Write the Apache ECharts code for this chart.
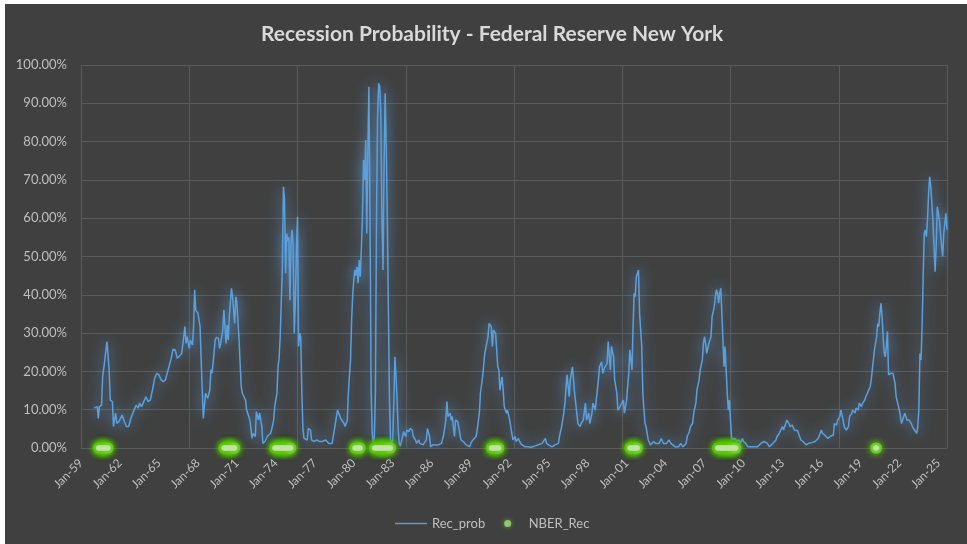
<!DOCTYPE html>
<html>
<head>
<meta charset="utf-8">
<script src="https://cdn.jsdelivr.net/npm/echarts@6/dist/echarts.min.js"></script>
<style>
  html, body { margin: 0; padding: 0; background: #ffffff; }
  #chart { position: absolute; left: 5px; top: 4px; width: 962px; height: 540px; }
</style>
</head>
<body>
<div id="chart"></div>
<script>
// ---- Data ----
const startYear = 1959;          // first category: Jan-59
const monthCount = 801;          // Jan-59 .. Sep-25
const monthNames = ['Jan','Feb','Mar','Apr','May','Jun','Jul','Aug','Sep','Oct','Nov','Dec'];

// Rec_prob: [month index since Jan-59, probability in %]
const recProb = [
[12,10.4],[15,10.8],[16,7.7],[17,10.8],[19,11.2],[20,18.6],[22,23.0],[24,27.8],[26,20.4],[27,12.5],[29,12.1],[30,5.6],[32,9.1],[33,6.4],[35,6.9],[36,6.4],[38,8.6],[40,6.9],[42,5.6],[44,5.6],[46,7.7],[49,9.9],[51,11.2],[53,10.4],[54,11.7],[56,10.8],[58,12.1],[60,13.4],[62,12.1],[64,12.5],[66,15.1],[68,18.2],[70,19.5],[72,19.1],[74,17.8],[76,17.3],[78,17.8],[80,19.9],[83,23.0],[85,25.8],[87,25.6],[89,23.4],[90,23.8],[93,24.7],[94,26.9],[96,31.7],[97,27.3],[98,29.1],[100,26.0],[101,28.2],[103,26.9],[104,31.7],[105,41.3],[106,36.0],[108,35.2],[110,31.7],[111,23.0],[113,7.7],
[115,14.3],[117,13.0],[119,15.1],[120,20.4],[121,19.5],[122,22.1],[124,28.2],[125,28.9],[127,28.6],[128,26.0],[129,27.3],[131,30.8],[132,36.0],[134,27.3],[135,32.1],[136,28.2],[137,34.3],[139,41.7],[140,39.5],[142,32.5],[143,39.5],[144,37.8],[146,28.2],[148,16.0],[149,14.3],[150,14.7],[152,12.5],[153,9.9],[155,8.2],[156,7.3],[158,2.5],[159,3.8],[161,3.0],[162,9.5],[164,7.3],[165,9.1],[167,5.6],[168,1.2],[170,1.7],[172,3.0],[173,2.5],[175,3.8],[176,4.7],[178,7.3],[179,10.8],[181,14.3],[182,21.2],
[183,23.4],[184,29.0],[185,38.0],[186,47.0],[187,68.2],[188,65.0],[189,45.6],[190,56.0],[191,54.0],[192,55.0],[193,38.6],[194,53.4],[195,57.0],[196,52.6],[197,30.0],[198,37.8],[199,51.7],[200,60.4],[201,26.5],[202,30.0],[203,29.0],[204,14.3],[205,5.0],[206,2.5],
[207,2.1],[209,2.1],[210,5.1],[212,4.7],[213,2.1],[215,1.7],[216,1.2],[218,2.1],[220,1.7],[221,2.1],[223,1.7],[226,2.1],[229,1.2],[232,1.2],[233,3.0],[235,6.4],[237,9.9],[238,9.1],[240,7.7],[241,7.3],[243,6.4],[244,5.6],[246,7.3],
[247,14.3],[248,19.0],[249,23.0],[250,33.4],[251,40.0],[252,43.9],[253,46.5],[254,45.0],[255,47.3],[256,43.0],[257,49.1],[258,44.7],[259,52.0],[260,60.4],[261,75.2],[262,70.0],[263,80.4],[264,56.0],[265,78.0],[266,94.3],[267,60.4],[268,15.0],[269,4.0],[270,1.5],[271,3.0],[272,15.0],[273,60.0],[274,86.5],[275,95.2],[276,94.3],[277,86.5],[278,60.0],[279,46.5],[280,75.0],[281,92.6],[282,77.8],[283,60.0],[284,35.0],[285,12.0],[286,2.0],[287,1.2],[288,2.1],[289,12.5],[290,23.8],[291,18.6],[292,12.5],[293,4.7],[294,1.2],
[295,0.5],[297,3.0],[298,4.3],[300,3.0],[301,4.7],[303,4.3],[304,5.1],[306,4.7],[307,3.0],[309,2.1],[310,1.2],[312,2.1],[313,1.2],[316,0.8],[317,0.3],[319,2.1],[320,5.1],[322,3.0],[323,0.3],[325,0.8],[326,0.3],[330,0.8],[333,1.2],[335,3.4],[337,7.3],[338,12.1],[339,8.2],[341,9.1],[342,7.3],[343,8.2],[345,3.0],[346,7.3],[348,6.9],[349,6.4],[351,2.1],[353,1.7],[354,1.2],[356,0.8],[357,1.2],[359,0.3],[360,1.2],[362,2.1],[363,1.7],[365,3.0],[366,4.7],[368,9.1],[369,14.3],[371,18.6],[373,24.7],[374,25.2],[376,29.1],[377,32.5],[379,31.7],[380,26.5],[381,30.8],[383,29.9],[384,25.6],[385,21.2],[386,20.4],[387,15.1],[389,18.6],[390,15.1],[391,10.8],[393,9.1],[394,9.9],
[396,7.3],[398,3.8],[399,2.1],[401,3.0],[402,1.7],[404,2.5],[406,1.2],[407,0.8],[410,0.3],[413,0.3],[416,0.2],[419,0.5],[422,0.8],[426,1.2],[427,1.7],[429,2.5],[430,1.2],[432,0.8],[435,0.3],[438,0.8],[441,1.2],[442,3.0],[444,5.6],[446,9.1],[447,11.7],[449,19.1],[451,13.4],[452,17.8],[454,21.2],[456,14.3],[458,9.1],[459,6.4],[461,5.6],[462,6.4],[464,7.3],[466,11.7],[467,7.3],[469,9.1],[470,6.4],[472,9.1],[473,11.7],[475,9.9],[476,12.5],[478,17.8],[479,21.2],[481,22.5],[482,19.5],[484,21.2],[486,22.1],[487,27.8],[489,20.4],[490,26.5],[492,23.8],[493,17.8],[495,14.3],[496,9.9],[498,10.8],[499,10.8],[501,12.5],[502,9.1],[504,12.5],[506,19.5],[507,25.6],[509,20.4],[510,31.7],[511,40.4],[512,39.5],[513,44.7],[515,46.5],[516,35.2],[518,26.5],[519,14.3],[521,6.4],[522,5.6],[524,2.1],[526,0.8],[527,0.3],
[529,1.7],[531,1.2],[532,0.8],[534,1.2],[536,2.5],[538,1.2],[539,0.8],[541,1.2],[543,2.1],[545,1.2],[546,0.8],[549,0.3],[552,0.3],[554,1.2],[556,0.3],[557,0.3],[559,1.2],[560,3.0],[562,4.3],[563,5.6],[565,6.4],[566,9.1],[568,11.7],[569,15.1],[571,17.8],[572,20.4],[574,23.0],[575,27.3],[576,29.1],[577,27.3],[578,24.7],[579,24.7],[580,27.3],[582,29.1],[583,34.3],[585,36.9],[586,39.5],[587,41.3],[588,40.4],[589,37.8],[590,40.4],[591,41.7],[592,35.2],[593,28.2],[594,21.2],[595,26.5],[596,20.4],[597,14.3],[598,9.9],[599,12.5],[600,7.3],[601,3.0],[602,2.1],[604,2.5],[605,3.0],[606,1.7],[608,2.1],[609,1.2],[611,2.5],[612,1.7],[614,1.2],[616,0.3],[619,0.3],[622,0.3],[625,0.3],[628,1.2],[631,1.7],[632,2.1],[634,1.2],[636,0.3],[637,0.8],[639,1.2],[640,1.7],[642,2.1],[643,3.0],[645,3.8],[646,4.3],[648,5.6],[649,4.7],[651,6.4],[652,7.3],[654,6.4],[655,5.6],[657,6.0],[659,4.7],[660,4.7],[662,4.5],
[665,2.1],[667,1.7],[668,1.2],[670,0.8],[672,1.2],[673,1.0],[675,1.4],[676,1.2],[678,1.7],[679,2.1],[681,2.5],[682,3.0],[684,4.7],[685,3.8],[687,3.4],[688,3.0],[690,2.5],[692,3.0],[693,3.4],[695,3.4],[696,6.4],[698,6.0],[699,7.3],[701,8.2],[702,9.9],[704,7.3],[705,5.6],[707,4.7],[709,5.6],[710,8.2],[712,9.1],[713,9.9],[715,9.1],[716,10.4],[718,9.9],[719,11.7],[721,10.8],[722,11.7],[724,12.5],[725,13.4],[727,14.7],[728,14.3],[729,16.0],[730,17.8],[732,23.0],[733,25.6],[734,27.3],[735,29.1],[736,32.5],[737,31.7],[738,35.2],[739,37.8],[740,34.3],[741,29.1],[742,24.7],[743,23.8],[744,26.5],[745,30.4],[746,19.1],[748,19.5],[750,19.5],[752,16.9],[753,13.4],[756,9.9],[758,6.4],[759,6.0],[761,9.1],[763,7.3],[765,7.3],[767,6.4],[768,5.6],[770,4.7],[772,3.8],[773,5.6],[774,10.0],[775,24.7],[776,23.0],[777,31.7],[778,44.7],[779,56.0],[780,56.9],[781,55.2],[782,59.5],[783,66.5],[784,70.8],[785,68.2],[786,63.9],[787,59.5],[788,52.6],[789,46.0],[790,52.6],[791,63.0],[792,61.3],[793,59.5],[794,56.0],[795,52.6],[796,50.0],[797,56.0],[798,56.5],[799,61.3],[800,57.0]
];

// NBER_Rec: recession months (month index since Jan-59), plotted at 0
const nberRecMonths = [
16,17,18,19,20,21,22,23,24,25,
132,133,134,135,136,137,138,139,140,141,142,
179,180,181,182,183,184,185,186,187,188,189,190,191,192,193,194,
253,254,255,256,257,258,
271,272,273,274,275,276,277,278,279,280,281,282,283,284,285,286,
379,380,381,382,383,384,385,386,
507,508,509,510,511,512,513,514,
588,589,590,591,592,593,594,595,596,597,598,599,600,601,602,603,604,605,
734,735
];

// ---- Categories (monthly) ----
const categories = [];
for (let i = 0; i < monthCount; i++) {
  const y = startYear + Math.floor(i / 12);
  categories.push(monthNames[i % 12] + '-' + String(y % 100).padStart(2, '0'));
}

const FONT = 'Lato';
const TXT = '#bfbfbf';
const GRID = '#5a5a5a';
const nberPoints = nberRecMonths.map(function (m) { return [m, 0]; });

const chart = echarts.init(document.getElementById('chart'), null, { renderer: 'canvas' });
chart.setOption({
  backgroundColor: '#404040',
  animation: false,
  title: {
    text: 'Recession Probability - Federal Reserve New York',
    left: 251,
    top: 15,
    textStyle: { color: '#d9d9d9', fontSize: 21, fontWeight: 'bold', fontFamily: FONT }
  },
  grid: { left: 76, right: 20, top: 61, bottom: 96, containLabel: false },
  legend: {
    left: 385,
    top: 508,
    itemWidth: 32,
    itemHeight: 7,
    itemGap: 19,
    textStyle: { color: TXT, fontSize: 13, fontFamily: FONT },
    data: [
      { name: 'Rec_prob', icon: 'path://M0,0 L32,0 L32,1.5 L0,1.5 Z', itemStyle: { color: '#5b9bd5' } },
      { name: 'NBER_Rec', icon: 'circle', itemStyle: { color: '#a9d18e', shadowBlur: 4, shadowColor: '#5fd000' } }
    ]
  },
  xAxis: {
    type: 'category',
    data: categories,
    boundaryGap: false,
    axisLine: { show: true, lineStyle: { color: GRID } },
    axisTick: { show: false },
    axisLabel: {
      interval: 35,
      rotate: 45,
      margin: 13,
      color: TXT,
      fontSize: 12,
      fontFamily: FONT
    },
    splitLine: {
      show: true,
      interval: function (index) { return index % 100 === 0; },
      lineStyle: { color: GRID, width: 1 }
    }
  },
  yAxis: {
    type: 'value',
    min: 0,
    max: 100,
    interval: 10,
    axisLine: { show: false },
    axisTick: { show: false },
    axisLabel: {
      margin: 14,
      color: TXT,
      fontSize: 13,
      fontFamily: FONT,
      formatter: function (v) { return v.toFixed(2) + '%'; }
    },
    splitLine: { show: true, lineStyle: { color: GRID, width: 1 } }
  },
  series: [
    {
      name: 'Rec_prob',
      type: 'line',
      data: recProb.map(function (p) { return [p[0], p[1]]; }),
      symbol: 'none',
      showSymbol: false,
      lineStyle: {
        color: '#5ba0dc',
        width: 1.5,
        shadowBlur: 14,
        shadowColor: 'rgba(95,160,225,1)'
      },
      itemStyle: { color: '#5b9bd5' },
      z: 3
    },
    {
      name: 'NBER_Rec',
      type: 'scatter',
      data: nberPoints,
      symbol: 'circle',
      symbolSize: 11,
      clip: false,
      itemStyle: {
        color: '#6fd02a',
        shadowBlur: 7,
        shadowColor: '#58c800'
      },
      z: 4
    },
    {
      name: 'NBER_Rec_core',
      type: 'scatter',
      data: nberPoints,
      symbol: 'circle',
      symbolSize: 5.5,
      clip: false,
      silent: true,
      itemStyle: { color: '#c3e2a6' },
      z: 5
    }
  ]
});
</script>
</body>
</html>
